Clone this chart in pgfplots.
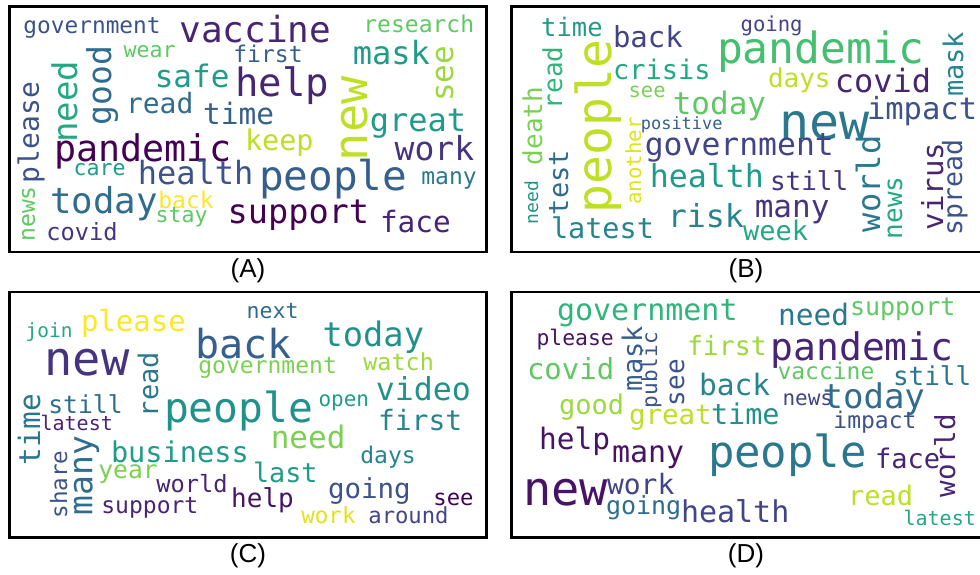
\documentclass[border=0pt]{standalone}
\usepackage{fontspec}
\usepackage{pgfplots}
\pgfplotsset{compat=1.18}
\newfontfamily\wcfont{DejaVu Sans Mono}
\newfontfamily\labfont{Liberation Sans}
\definecolor{v00}{HTML}{440154}
\definecolor{v05}{HTML}{471365}
\definecolor{v10}{HTML}{482475}
\definecolor{v15}{HTML}{463480}
\definecolor{v20}{HTML}{414487}
\definecolor{v25}{HTML}{3B528B}
\definecolor{v30}{HTML}{355F8D}
\definecolor{v35}{HTML}{2F6C8E}
\definecolor{v40}{HTML}{2A788E}
\definecolor{v45}{HTML}{25848E}
\definecolor{v50}{HTML}{21918C}
\definecolor{v55}{HTML}{1E9C89}
\definecolor{v60}{HTML}{22A884}
\definecolor{v65}{HTML}{2FB47C}
\definecolor{v70}{HTML}{44BF70}
\definecolor{v75}{HTML}{5EC962}
\definecolor{v80}{HTML}{7AD151}
\definecolor{v85}{HTML}{9BD93C}
\definecolor{v90}{HTML}{BDDF26}
\definecolor{v95}{HTML}{DFE318}
\definecolor{v100}{HTML}{FDE725}

\pgfplotsset{
  wcaxis/.style={scale only axis, width=477pt, height=245.5pt,
    xtick=\empty, ytick=\empty, clip=false, anchor=north west,
    axis line style={line width=2.5pt, black},
    xlabel style={font=\labfont\fontsize{26}{26}\selectfont,
      at={(axis description cs:0.5,0)}, anchor=center, yshift=-18.5pt, inner sep=0pt}},
  wc/.style n args={4}{draw=none, mark=none, nodes near coords={#4},
    every node near coord/.append style={anchor=base west, inner sep=0pt,
      outer sep=0pt, rotate=#2, text=#3,
      font=\wcfont\fontsize{#1}{#1}\selectfont}}
}
% word: x, y (image pixels, base-west anchor), font size, rotation, colour, word
\newcommand\W[6]{\addplot[wc={#3}{#4}{#5}{#6}] coordinates {(#1,-#2)};}

\begin{document}
\begin{tikzpicture}
\begin{axis}[wcaxis, at={(9.5pt,-6.5pt)}, xmin=9.5, xmax=486.5, ymin=-252, ymax=-6.5, xlabel={(A)}]
\W{23.4}{33.3}{22.8}{0}{v25}{government}
\W{179.5}{43}{36}{0}{v10}{vaccine}
\W{235.3}{97}{39}{0}{v10}{help}
\W{233.4}{63}{23}{0}{v30}{first}
\W{363.4}{33}{23}{0}{v75}{research}
\W{352.8}{65}{32}{0}{v55}{mask}
\W{453}{102}{31}{90}{v85}{see}
\W{367}{161}{47}{90}{v90}{new}
\W{369.8}{132}{32}{0}{v55}{great}
\W{154.8}{88}{31}{0}{v55}{safe}
\W{123.5}{58}{21.6}{0}{v75}{wear}
\W{77}{142.5}{34}{90}{v60}{need}
\W{111}{125.3}{33}{90}{v35}{good}
\W{39}{183}{28}{90}{v25}{please}
\W{126}{113}{28}{0}{v35}{read}
\W{203}{124}{29.5}{0}{v30}{time}
\W{54.4}{161}{36.7}{0}{v00}{pandemic}
\W{245}{150}{28.5}{0}{v90}{keep}
\W{394.7}{160}{33}{0}{v15}{work}
\W{137.8}{185}{32}{0}{v25}{health}
\W{259}{190}{41}{0}{v30}{people}
\W{421.4}{185}{23}{0}{v40}{many}
\W{73.5}{175}{21.6}{0}{v55}{care}
\W{50.5}{213}{35.7}{0}{v35}{today}
\W{158.4}{208}{23}{0}{v100}{back}
\W{155.5}{222}{21.6}{0}{v75}{stay}
\W{227.6}{223}{33.6}{0}{v00}{support}
\W{380}{232}{29.4}{0}{v10}{face}
\W{35}{241.6}{23}{90}{v75}{news}
\W{46.3}{240}{23.7}{0}{v15}{covid}
\end{axis}
\begin{axis}[wcaxis, at={(511.5pt,-6.5pt)}, xmin=511.5, xmax=988.5, ymin=-252, ymax=-6.5, xlabel={(B)},
  xlabel style={xshift=-4pt}]
\W{541.2}{37}{25.5}{0}{v55}{time}
\W{740.6}{32}{20.6}{0}{v20}{going}
\W{613}{48}{29}{0}{v20}{back}
\W{717}{64}{43}{0}{v70}{pandemic}
\W{963}{97}{27}{90}{v45}{mask}
\W{611}{213.4}{48}{90}{v90}{people}
\W{613}{80}{27}{0}{v60}{crisis}
\W{562}{109}{26}{90}{v65}{read}
\W{768}{88}{26}{0}{v90}{days}
\W{834.8}{93}{32}{0}{v10}{covid}
\W{628.6}{98}{20.5}{0}{v80}{see}
\W{672.8}{115}{31}{0}{v75}{today}
\W{542}{165}{26}{90}{v80}{death}
\W{779.5}{140}{50}{0}{v40}{new}
\W{867}{120}{30.5}{0}{v25}{impact}
\W{640.8}{130}{17}{0}{v30}{positive}
\W{641}{204.5}{20.7}{90}{v95}{another}
\W{644.8}{156}{31.4}{0}{v20}{government}
\W{649.8}{187}{31.6}{0}{v55}{health}
\W{770}{190}{26}{0}{v15}{still}
\W{880}{232}{32}{90}{v40}{world}
\W{902}{239}{26}{90}{v60}{news}
\W{943}{230}{29}{90}{v10}{virus}
\W{962}{235}{26.5}{90}{v25}{spread}
\W{667.8}{227}{31.6}{0}{v45}{risk}
\W{754.8}{217}{31}{0}{v15}{many}
\W{743}{240}{27}{0}{v60}{week}
\W{551}{238}{28.5}{0}{v45}{latest}
\W{568}{215}{27}{90}{v35}{test}
\W{538}{224}{18}{90}{v50}{need}
\end{axis}
\begin{axis}[wcaxis, at={(9.5pt,-292pt)}, xmin=9.5, xmax=486.5, ymin=-537.5, ymax=-292, xlabel={(C)}]
\W{25.6}{337}{19.5}{0}{v60}{join}
\W{81}{331}{29}{0}{v100}{please}
\W{44.7}{375}{47}{0}{v15}{new}
\W{195.2}{358}{40}{0}{v30}{back}
\W{246.5}{318}{21.6}{0}{v35}{next}
\W{322.6}{346}{33.7}{0}{v50}{today}
\W{158}{417}{27}{90}{v40}{read}
\W{198.4}{373}{23}{0}{v80}{government}
\W{363.4}{370}{23.4}{0}{v85}{watch}
\W{375.8}{400}{31.6}{0}{v50}{video}
\W{164}{422}{41.3}{0}{v50}{people}
\W{318.5}{406}{21}{0}{v55}{open}
\W{378}{430}{28}{0}{v45}{first}
\W{40}{465}{29.5}{90}{v40}{time}
\W{48.3}{413}{24.7}{0}{v35}{still}
\W{40.6}{430}{20}{0}{v10}{latest}
\W{111}{462}{28.6}{0}{v55}{business}
\W{92.4}{515}{33}{90}{v35}{many}
\W{67}{518.6}{22.6}{90}{v25}{share}
\W{98.3}{478}{24.7}{0}{v80}{year}
\W{156.3}{492}{23.7}{0}{v10}{world}
\W{101.4}{513}{23}{0}{v10}{support}
\W{231.2}{507}{26}{0}{v05}{help}
\W{270.8}{448}{31}{0}{v80}{need}
\W{360.4}{463}{23}{0}{v45}{days}
\W{253}{482}{26.8}{0}{v55}{last}
\W{328}{498}{27.5}{0}{v25}{going}
\W{433.4}{505}{22.2}{0}{v00}{see}
\W{301.4}{523}{22.5}{0}{v95}{work}
\W{368.4}{523}{22.2}{0}{v20}{around}
\end{axis}
\begin{axis}[wcaxis, at={(511.5pt,-292pt)}, xmin=511.5, xmax=988.5, ymin=-537.5, ymax=-292, xlabel={(D)},
  xlabel style={xshift=-4pt}]
\W{557}{320}{30}{0}{v65}{government}
\W{778}{325}{29.5}{0}{v40}{need}
\W{850}{315}{25}{0}{v75}{support}
\W{536.5}{345}{21.4}{0}{v05}{please}
\W{642}{391}{27}{90}{v30}{mask}
\W{657}{408}{21}{90}{v25}{public}
\W{684}{406}{26}{90}{v25}{see}
\W{687}{355}{26.5}{0}{v85}{first}
\W{527}{379}{29}{0}{v75}{covid}
\W{770.5}{360}{38}{0}{v10}{pandemic}
\W{777.5}{379}{23}{0}{v75}{vaccine}
\W{893}{385}{26}{0}{v40}{still}
\W{559}{414}{27}{0}{v85}{good}
\W{699}{395}{29.5}{0}{v45}{back}
\W{782.5}{405}{21}{0}{v20}{news}
\W{822.6}{408}{34}{0}{v35}{today}
\W{629}{424}{27.5}{0}{v90}{great}
\W{711}{424}{28.5}{0}{v50}{time}
\W{833.4}{428}{23}{0}{v25}{impact}
\W{955}{497}{27.5}{90}{v10}{world}
\W{539}{449}{29.5}{0}{v05}{help}
\W{612}{462}{30}{0}{v05}{many}
\W{708}{467}{44}{0}{v40}{people}
\W{875}{468}{27}{0}{v10}{face}
\W{523}{505}{47}{0}{v05}{new}
\W{607}{494}{28}{0}{v20}{work}
\W{606}{514}{25}{0}{v35}{going}
\W{681}{522}{30}{0}{v20}{health}
\W{848}{505}{27}{0}{v90}{read}
\W{903.6}{525}{20}{0}{v60}{latest}
\end{axis}
\pgfresetboundingbox
\path[use as bounding box] (0pt,0pt) rectangle (980pt,-575pt);
\end{tikzpicture}
\end{document}
